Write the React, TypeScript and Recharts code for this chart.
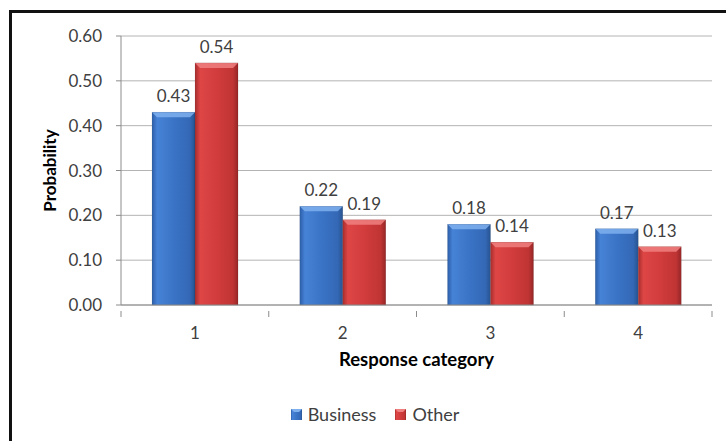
import React from 'react';
import { BarChart, Bar, XAxis, YAxis, CartesianGrid, LabelList, Legend } from 'recharts';

const categories = ['1', '2', '3', '4'];
const business = [0.43, 0.22, 0.18, 0.17];
const other = [0.54, 0.19, 0.14, 0.13];
const yTicks = [0, 0.1, 0.2, 0.3, 0.4, 0.5, 0.6];

const data = categories.map((c, i) => ({ cat: c, Business: business[i], Other: other[i] }));

const FONT = 'Lato, "Noto Sans", sans-serif';
const TEXT = '#404040';
const NUM = 17;

const BevelBar = (props: any) => {
  const { x, y, width, height, gid, top } = props;
  if (!height || height <= 0) return null;
  const b = Math.min(5, height / 2);
  return (
    <g>
      <rect x={x} y={y} width={width} height={height} fill={`url(#${gid})`} />
      <polygon points={`${x},${y} ${x + width},${y} ${x + width - b},${y + b} ${x + b},${y + b}`} fill={top} opacity={0.85} />
      <rect x={x} y={y} width={width} height={height} fill="none" stroke="rgba(0,0,0,0.15)" strokeWidth={0.6} />
    </g>
  );
};

const XTick = (props: any) => {
  const { x, y, payload, index, visibleTicksCount } = props;
  const half = payload.offset || 0;
  const ay = y - 2;
  return (
    <g>
      <line x1={x - half} y1={ay} x2={x - half} y2={ay + 6} stroke="#8c8c8c" />
      {index === visibleTicksCount - 1 && (
        <line x1={x + half} y1={ay} x2={x + half} y2={ay + 6} stroke="#8c8c8c" />
      )}
      <text x={x} y={ay + 24} textAnchor="middle" dominantBaseline="middle" fill={TEXT} fontSize={NUM} fontFamily={FONT}>
        {payload.value}
      </text>
    </g>
  );
};

const YLabel = (props: any) => {
  const { viewBox } = props;
  const cx = 52;
  const cy = viewBox.y + viewBox.height / 2;
  return (
    <text x={cx} y={cy} transform={`rotate(-90 ${cx} ${cy})`} textAnchor="middle" dominantBaseline="middle" fontWeight="bold" fontSize={17} fill="#000" fontFamily={FONT}>
      Probability
    </text>
  );
};

const XLabel = (props: any) => {
  const { viewBox } = props;
  const cx = viewBox.x + viewBox.width / 2;
  return (
    <text x={cx} y={361} textAnchor="middle" dominantBaseline="middle" fontWeight="bold" fontSize={18.5} fill="#000" fontFamily={FONT}>
      Response category
    </text>
  );
};

const LegendContent = () => {
  const items = [
    { name: 'Business', gid: 'gBlue', top: '#7fb0ee' },
    { name: 'Other', gid: 'gRed', top: '#f08080' },
  ];
  return (
    <div style={{ display: 'flex', justifyContent: 'center', alignItems: 'center', fontFamily: FONT, fontSize: 18, color: TEXT, paddingLeft: 24 }}>
      {items.map((it, i) => (
        <div key={it.name} style={{ display: 'flex', alignItems: 'center', marginLeft: i ? 19 : 0 }}>
          <svg width={11} height={11} style={{ marginRight: 6 }}>
            <rect x={0} y={0} width={11} height={11} fill={`url(#${it.gid})`} />
            <polygon points="0,0 11,0 8,3 3,3" fill={it.top} />
          </svg>
          <span>{it.name}</span>
        </div>
      ))}
    </div>
  );
};

export default function App() {
  return (
    <div style={{ position: 'absolute', left: 0, top: 0, width: 726, height: 441, background: '#fff', overflow: 'hidden' }}>
      <div style={{ position: 'absolute', left: 9, top: 10, width: 800, height: 500, borderTop: '3px solid #111', borderLeft: '3px solid #111' }} />
      <div style={{ position: 'absolute', left: 0, top: 0 }}>
        <BarChart width={726} height={441} data={data} margin={{ top: 36, right: 14, bottom: 76, left: 11 }} barCategoryGap="21%" barGap={0}>
          <defs>
            <linearGradient id="gBlue" x1="0" y1="0" x2="1" y2="0">
              <stop offset="0" stopColor="#2c5ea8" />
              <stop offset="0.12" stopColor="#4682d6" />
              <stop offset="0.5" stopColor="#3a74c6" />
              <stop offset="0.88" stopColor="#3468b6" />
              <stop offset="1" stopColor="#27538f" />
            </linearGradient>
            <linearGradient id="gRed" x1="0" y1="0" x2="1" y2="0">
              <stop offset="0" stopColor="#a82c2c" />
              <stop offset="0.12" stopColor="#de4646" />
              <stop offset="0.5" stopColor="#d23c3c" />
              <stop offset="0.88" stopColor="#c03434" />
              <stop offset="1" stopColor="#962626" />
            </linearGradient>
          </defs>
          <CartesianGrid vertical={false} stroke="#b4b4b4" />
          <XAxis
            dataKey="cat"
            height={60}
            axisLine={{ stroke: '#8c8c8c' }}
            tickLine={false}
            tick={<XTick />}
            interval={0}
            label={<XLabel />}
          />
          <YAxis
            width={110}
            domain={[0, 0.6]}
            ticks={yTicks}
            interval={0}
            tickFormatter={(v: number) => v.toFixed(2)}
            axisLine={{ stroke: '#8c8c8c' }}
            tickLine={{ stroke: '#8c8c8c' }}
            tickSize={5}
            tickMargin={14}
            tick={{ fill: TEXT, fontSize: NUM, fontFamily: FONT }}
            label={<YLabel />}
          />
          <Legend
            layout="horizontal"
            verticalAlign="middle"
            align="center"
            wrapperStyle={{ position: 'absolute', top: 403, left: 0, width: 726 }}
            content={<LegendContent />}
          />
          <Bar dataKey="Business" isAnimationActive={false} shape={<BevelBar gid="gBlue" top="#7fb0ee" />}>
            <LabelList dataKey="Business" position="top" offset={10} formatter={(v: number) => v.toFixed(2)} fill={TEXT} fontSize={NUM} fontFamily={FONT} />
          </Bar>
          <Bar dataKey="Other" isAnimationActive={false} shape={<BevelBar gid="gRed" top="#f08080" />}>
            <LabelList dataKey="Other" position="top" offset={10} formatter={(v: number) => v.toFixed(2)} fill={TEXT} fontSize={NUM} fontFamily={FONT} />
          </Bar>
        </BarChart>
      </div>
    </div>
  );
}
